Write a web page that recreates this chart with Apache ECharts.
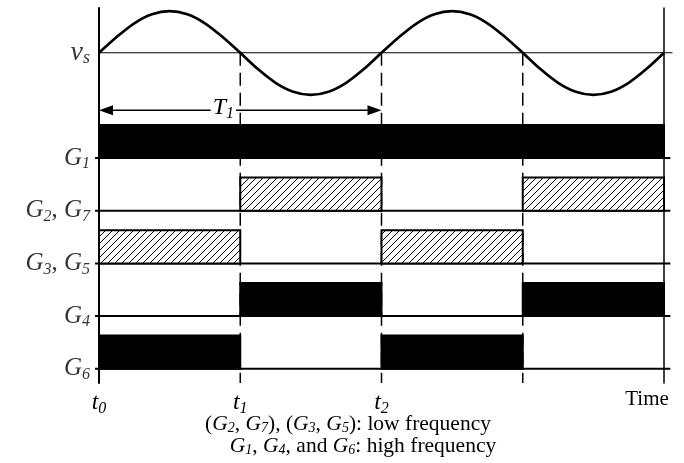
<!DOCTYPE html>
<html><head><meta charset="utf-8">
<script src="https://cdn.jsdelivr.net/npm/echarts@6/dist/echarts.min.js"></script>
<style>html,body{margin:0;padding:0;background:#fff}#c{width:684px;height:463px}</style>
</head><body><div id="c"></div>
<script>
// ---- data ----
const timeTicks = [0, 1, 2, 3, 4];
const timeTickLabels = ['t0', 't1', 't2', '', 'Time'];
const switchTimes = [1, 2, 3];
// rows from bottom to top
const rowLabels = ['G6', 'G4', 'G3,G5', 'G2,G7', 'G1', '', 'vs'];
const gateRows = [0, 1, 2, 3, 4];
// on-intervals for each gate signal
const G1On = [[0, 4]];
const G2G7On = [[1, 2], [3, 4]];
const G3G5On = [[0, 1], [2, 3]];
const G4On = [[1, 2], [3, 4]];
const G6On = [[0, 1], [2, 3]];
const gateHigh = 0.63;
// source voltage v_s
const vsTime = [0, 0.125, 0.25, 0.375, 0.5, 0.625, 0.75, 0.875, 1, 1.125, 1.25, 1.375, 1.5, 1.625, 1.75, 1.875, 2,
  2.125, 2.25, 2.375, 2.5, 2.625, 2.75, 2.875, 3, 3.125, 3.25, 3.375, 3.5, 3.625, 3.75, 3.875, 4];
const vsValue = [0, 0.30, 0.56, 0.73, 0.79, 0.73, 0.56, 0.30, 0, -0.31, -0.57, -0.74, -0.80, -0.74, -0.57, -0.31, 0,
  0.30, 0.56, 0.73, 0.79, 0.73, 0.56, 0.30, 0, -0.31, -0.57, -0.74, -0.80, -0.74, -0.57, -0.31, 0];
const vsRow = 6;
const T1Span = [0, 2];
const T1Level = 4.91;
const captionLines = ['(G2, G7), (G3, G5): low frequency', 'G1, G4, and G6: high frequency'];

// ---- build ----
const yMin = -0.27, yMax = 6.85;
const FONT = 'Liberation Serif';
const hatch = document.createElement('canvas');
hatch.width = 7; hatch.height = 7;
(function () {
  const c = hatch.getContext('2d');
  c.fillStyle = '#fff'; c.fillRect(0, 0, 7, 7);
  c.strokeStyle = '#000'; c.lineWidth = 1;
  c.beginPath();
  c.moveTo(0, 7); c.lineTo(7, 0);
  c.moveTo(-1, 1); c.lineTo(1, -1);
  c.moveTo(6, 8); c.lineTo(8, 6);
  c.stroke();
})();
const hatchFill = { image: hatch, repeat: 'repeat' };

const gateData = [];
[[G6On, 0, 0], [G4On, 1, 0], [G3G5On, 2, 1], [G2G7On, 3, 1], [G1On, 4, 0]].forEach(([on, row, kind]) => {
  on.forEach(iv => gateData.push([iv[0], iv[1], row, kind]));
});

function st(size, italic, extra) {
  return Object.assign({ fontFamily: FONT, fontStyle: italic ? 'italic' : 'normal', fontWeight: 'normal', fontSize: size, color: '#000' }, extra || {});
}
const rich = {
  g: st(25, true),
  c: st(25, false),
  s: st(16, true, { padding: [12, 0, 0, 0] }),
  v: st(28, true),
  vs: st(18, true, { padding: [10, 0, 0, 0] }),
  t: st(24, true),
  ts: st(16, true, { padding: [12, 0, 0, 0] }),
  time: st(21, false, { padding: [0, 34, 0, 0] }),
  cap: st(21.5, false),
  capg: st(21.5, true),
  caps: st(14, true, { padding: [8, 0, 0, 0] })
};
function symRich(name) {
  if (name === 'vs') return '{v|v}{vs|s}';
  return name.split(',').map(p => '{g|G}{s|' + p.slice(1) + '}').join('{c|, }');
}
function capRich(line) {
  return line.replace(/G(\d)/g, '\u0001$1\u0002').split(/(\u0001\d\u0002)/).map(seg => {
    if (!seg) return '';
    if (seg[0] === '\u0001') return '{capg|G}{caps|' + seg[1] + '}';
    return '{cap|' + seg + '}';
  }).join('');
}

const chart = echarts.init(document.getElementById('c'), null, { renderer: 'canvas' });
chart.setOption({
  animation: false,
  backgroundColor: '#fff',
  grid: { left: 99, right: 20, top: 8, bottom: 80 },
  title: captionLines.map((l, i) => ({
    text: capRich(l), left: i === 0 ? 348 : 363, top: 413 + i * 22, textAlign: 'center',
    textStyle: { rich: rich, fontWeight: 'normal' }, padding: 0
  })),
  xAxis: {
    type: 'value', min: 0, max: 4, interval: 1,
    axisLine: { show: false }, axisTick: { show: false }, splitLine: { show: false },
    axisLabel: {
      margin: 6, showMaxLabel: true, rich: rich,
      formatter: v => {
        const l = timeTickLabels[timeTicks.indexOf(v)] || '';
        if (l === 'Time') return '{time|Time}';
        if (!l) return '';
        return '{t|' + l[0] + '}{ts|' + l.slice(1) + '}';
      }
    }
  },
  yAxis: [
    { type: 'value', min: yMin, max: yMax, position: 'left',
      axisLine: { show: true, lineStyle: { color: '#000', width: 2 } },
      axisTick: { show: false }, axisLabel: { show: false }, splitLine: { show: false } },
    { type: 'value', min: yMin, max: yMax, position: 'right',
      axisLine: { show: true, lineStyle: { color: '#000', width: 1.5 } },
      axisTick: { show: false }, axisLabel: { show: false }, splitLine: { show: false } }
  ],
  series: [
    { // dashed switching instants
      type: 'custom', z: 1,
      data: switchTimes.map(t => [t]),
      renderItem: (p, api) => {
        const a = api.coord([api.value(0), vsRow]);
        const b = api.coord([api.value(0), yMin]);
        return { type: 'line', shape: { x1: a[0], y1: a[1], x2: b[0], y2: b[1] },
          style: { stroke: '#000', lineWidth: 1.5, lineDash: [13, 7] } };
      }
    },
    { // baselines of gate rows with tick extensions
      type: 'custom', z: 2,
      data: gateRows.map(r => [r]),
      renderItem: (p, api) => {
        const a = api.coord([-0.028, api.value(0)]);
        const b = api.coord([4.045, api.value(0)]);
        return { type: 'line', shape: { x1: a[0], y1: a[1], x2: b[0], y2: b[1] },
          style: { stroke: '#000', lineWidth: 2 } };
      }
    },
    { // gate pulses
      type: 'custom', z: 3,
      data: gateData,
      renderItem: (p, api) => {
        const a = api.coord([api.value(0), api.value(2) + gateHigh]);
        const b = api.coord([api.value(1), api.value(2)]);
        const hatched = api.value(3) === 1;
        return { type: 'rect',
          shape: { x: a[0], y: a[1], width: b[0] - a[0], height: b[1] - a[1] },
          style: { fill: hatched ? hatchFill : '#000', stroke: '#000', lineWidth: 2 } };
      }
    },
    { // v_s zero line
      type: 'custom', z: 2,
      data: [[vsRow]],
      renderItem: (p, api) => {
        const a = api.coord([0, api.value(0)]);
        const b = api.coord([4.06, api.value(0)]);
        return { type: 'line', shape: { x1: a[0], y1: a[1], x2: b[0], y2: b[1] },
          style: { stroke: '#000', lineWidth: 1.2 } };
      }
    },
    { // v_s waveform
      type: 'line', z: 4, smooth: 0.3, symbol: 'none',
      data: vsTime.map((t, i) => [t, vsRow + vsValue[i]]),
      lineStyle: { color: '#000', width: 2.7 }
    },
    { // T1 arrow
      type: 'custom', z: 5,
      data: [[T1Span[0], T1Span[1], T1Level]],
      renderItem: (p, api) => {
        const a = api.coord([api.value(0), api.value(2)]);
        const b = api.coord([api.value(1), api.value(2)]);
        const L = 14, H = 5;
        const lx = a[0] + (b[0] - a[0]) * 0.44;
        return { type: 'group', children: [
          { type: 'line', shape: { x1: a[0] + L - 2, y1: a[1], x2: b[0] - L + 2, y2: b[1] }, style: { stroke: '#000', lineWidth: 1.5 } },
          { type: 'polygon', shape: { points: [[a[0], a[1]], [a[0] + L, a[1] - H], [a[0] + L, a[1] + H]] }, style: { fill: '#000' } },
          { type: 'polygon', shape: { points: [[b[0], b[1]], [b[0] - L, b[1] - H], [b[0] - L, b[1] + H]] }, style: { fill: '#000' } },
          { type: 'text', x: lx, y: a[1] - 2, style: { text: '{t|T}{ts|1}', rich: rich, align: 'center', verticalAlign: 'middle', backgroundColor: '#fff', padding: [0, 2] } }
        ] };
      }
    },
    { // row labels
      type: 'scatter', z: 6, symbolSize: 0,
      data: rowLabels.map((n, i) => ({ name: n, value: [0, i] })).filter(d => d.name),
      label: { show: true, position: 'left', distance: 9, formatter: d => symRich(d.name), rich: rich }
    }
  ]
});
</script></body></html>
